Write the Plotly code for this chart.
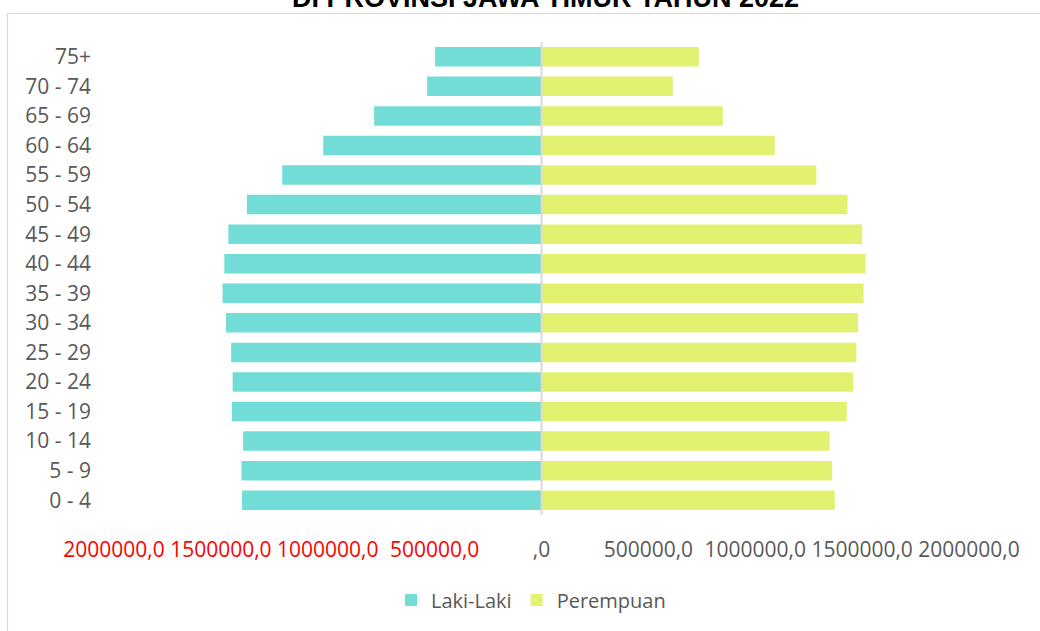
import plotly.graph_objects as go

# Age groups (bottom to top) and population by sex
age_groups = ["0 - 4", "5 - 9", "10 - 14", "15 - 19", "20 - 24", "25 - 29",
              "30 - 34", "35 - 39", "40 - 44", "45 - 49", "50 - 54", "55 - 59",
              "60 - 64", "65 - 69", "70 - 74", "75+"]
laki_laki = [1401000, 1404000, 1396000, 1448000, 1445000, 1452000,
             1476000, 1492000, 1484000, 1465000, 1378000, 1213000,
             1021000, 783000, 535000, 498000]
perempuan = [1372000, 1360000, 1348000, 1428000, 1458000, 1473000,
             1481000, 1507000, 1516000, 1500000, 1432000, 1286000,
             1091000, 848000, 614000, 736000]

tick_values = [-2000000, -1500000, -1000000, -500000, 0,
               500000, 1000000, 1500000, 2000000]
tick_labels = ["2000000,0", "1500000,0", "1000000,0", "500000,0", ",0",
               "500000,0", "1000000,0", "1500000,0", "2000000,0"]

title_text = "DI PROVINSI JAWA TIMUR TAHUN 2022"

TEAL = "#72DDD6"
LIME = "#E2F270"
GREY_TEXT = "#595959"
FONT = "Open Sans, sans-serif"

# Male values are plotted to the left of zero
left_values = [-v for v in laki_laki]

# Negative-side tick labels in red
tick_text = [
    f"<span style='color:#FF0000'>{t}</span>" if v < 0 else t
    for v, t in zip(tick_values, tick_labels)
]

fig = go.Figure()
fig.add_trace(go.Bar(
    y=age_groups, x=left_values, orientation="h", name="Laki-Laki",
    marker=dict(color=TEAL, line=dict(width=0)),
    customdata=laki_laki, hovertemplate="%{y}: %{customdata}<extra>Laki-Laki</extra>",
))
fig.add_trace(go.Bar(
    y=age_groups, x=perempuan, orientation="h", name="Perempuan",
    marker=dict(color=LIME, line=dict(width=0)),
))

plot_left, plot_right, plot_top, plot_bottom = 114, 969, 42, 515
W, H = 1040, 631

def px_to_paper_x(px):
    return (px - plot_left) / (plot_right - plot_left)

def px_to_paper_y(py):
    return (plot_bottom - py) / (plot_bottom - plot_top)

fig.update_layout(
    width=W, height=H,
    margin=dict(l=plot_left, r=W - plot_right, t=plot_top, b=H - plot_bottom, pad=0),
    paper_bgcolor="white", plot_bgcolor="white",
    barmode="relative", bargap=0.34,
    font=dict(family=FONT, size=21, color=GREY_TEXT),
    showlegend=True,
    legend=dict(
        orientation="h", x=px_to_paper_x(531), xanchor="center",
        y=px_to_paper_y(600), yanchor="middle",
        font=dict(family=FONT, size=20, color=GREY_TEXT),
        itemclick=False, itemdoubleclick=False,
        traceorder="normal",
    ),
    xaxis=dict(
        range=[-2000000, 2000000], tickvals=tick_values, ticktext=tick_text,
        showgrid=False, zeroline=False, showline=False, ticks="",
        ticklabelstandoff=20, tickfont=dict(family=FONT, size=21, color=GREY_TEXT),
        fixedrange=True,
    ),
    yaxis=dict(
        type="category", categoryorder="array", categoryarray=age_groups,
        showgrid=False, zeroline=False, showline=False, ticks="",
        ticklabelstandoff=22, tickfont=dict(family=FONT, size=21, color=GREY_TEXT),
        fixedrange=True,
    ),
    shapes=[
        # vertical category axis at zero
        dict(type="line", xref="x", yref="paper", x0=0, x1=0, y0=0, y1=1,
             line=dict(color="#D9D9D9", width=2), layer="above"),
        # chart frame
        dict(type="rect", xref="paper", yref="paper",
             x0=px_to_paper_x(7.5), x1=1.3, y0=-0.4, y1=px_to_paper_y(13.5),
             line=dict(color="#D9D9D9", width=1.2), fillcolor="rgba(0,0,0,0)",
             layer="below"),
    ],
    annotations=[
        # heading line that continues above the visible frame
        dict(text=f"<b>{title_text}</b>", xref="paper", yref="paper",
             x=px_to_paper_x(545), y=px_to_paper_y(-1.5),
             xanchor="center", yanchor="middle", showarrow=False,
             font=dict(family="Liberation Sans, Arial, sans-serif", size=27, color="black")),
    ],
)

fig.write_html("out.html")
